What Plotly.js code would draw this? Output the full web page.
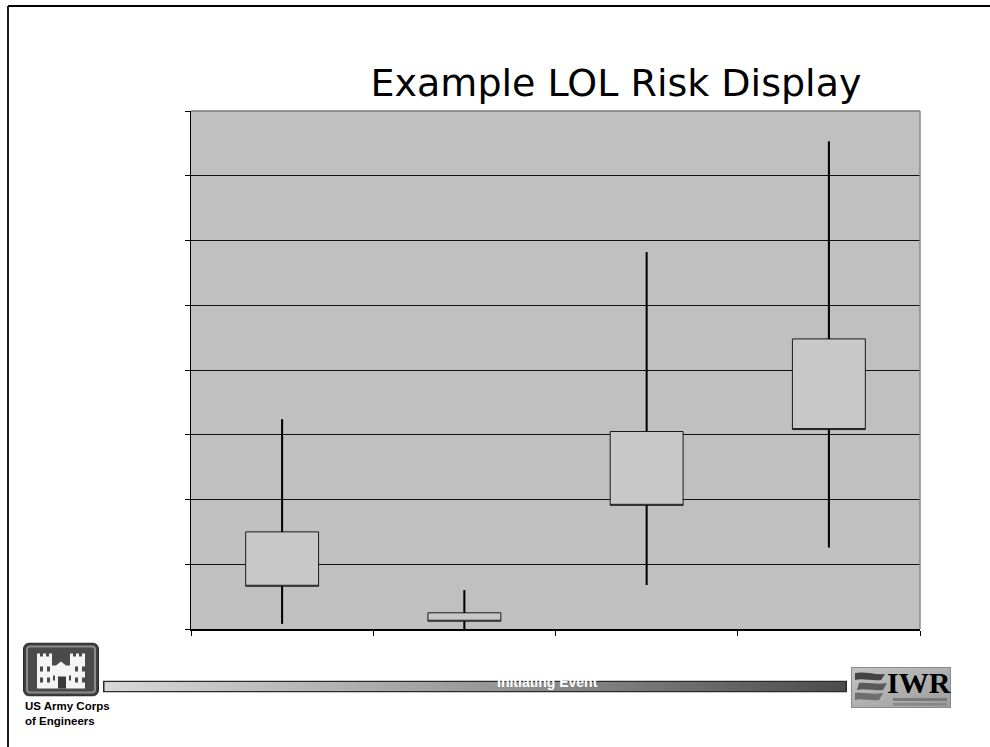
<!DOCTYPE html>
<html>
<head>
<meta charset="utf-8">
<script src="https://cdn.plot.ly/plotly-3.0.1.min.js"></script>
<style>
  html, body { margin: 0; padding: 0; background: #fff; }
  #chart { width: 990px; height: 747px; }
</style>
</head>
<body>
<div id="chart"></div>
<script>
// Loss-of-life risk ranges per initiating event
const events   = ['Event 1', 'Event 2', 'Event 3', 'Event 4'];
const riskLow  = [0.08, 0.00, 0.68, 1.26];   // lower end of range
const boxLow   = [0.66, 0.12, 1.91, 3.08];   // lower edge of likely band
const boxHigh  = [1.50, 0.25, 3.05, 4.48];   // upper edge of likely band
const riskHigh = [3.24, 0.60, 5.82, 7.53];   // upper end of range

const W = 990, H = 747;
const M = { l: 191, r: 70, t: 111, b: 118 };
const PW = W - M.l - M.r, PH = H - M.t - M.b;
// page pixel -> paper coordinates
const px = x => (x - M.l) / PW;
const py = y => (H - M.b - y) / PH;

// whisker segments: above and below each band
const wx = [], wy = [];
events.forEach((e, i) => {
  wx.push(e, e, null, e, e, null);
  wy.push(boxHigh[i], riskHigh[i], null, boxLow[i], riskLow[i], null);
});

const svgUri = s => 'data:image/svg+xml;charset=utf-8,' + encodeURIComponent(s);

const barSvg = `<svg xmlns='http://www.w3.org/2000/svg' width='744' height='12' viewBox='0 0 744 12' preserveAspectRatio='none'>
<defs><linearGradient id='g' x1='0' x2='1' y1='0' y2='0'>
<stop offset='0' stop-color='#d8d8d8'/><stop offset='0.5' stop-color='#9a9a9a'/><stop offset='1' stop-color='#4c4c4c'/></linearGradient></defs>
<rect x='0.75' y='0.75' width='742.5' height='10.5' fill='url(#g)' stroke='#2a2a2a' stroke-width='1.5'/></svg>`;

const castleSvg = `<svg xmlns='http://www.w3.org/2000/svg' width='76' height='54' viewBox='0 0 76 54'>
<rect x='0.5' y='0.5' width='75' height='53' rx='6' fill='#3e3e3e' stroke='#2a2a2a'/>
<rect x='4' y='4' width='68' height='46' rx='3' fill='#4a4a4a' stroke='#8c8c8c' stroke-width='2'/>
<path fill='#f4f4f4' d='M14 46 V11 h3 v3 h3 v-3 h3 v3 h3 v-3 h3 v12 h4 l5 -4 l5 4 h4 V11 h3 v3 h3 v-3 h3 v3 h3 v-3 h3 V46 Z'/>
<rect x='35' y='34' width='8' height='12' fill='#3a3a3a'/>
<rect x='17' y='24' width='3' height='5' fill='#4a4a4a'/><rect x='24' y='24' width='3' height='5' fill='#4a4a4a'/>
<rect x='52' y='24' width='3' height='5' fill='#4a4a4a'/><rect x='59' y='24' width='3' height='5' fill='#4a4a4a'/>
<rect x='17' y='35' width='3' height='5' fill='#4a4a4a'/><rect x='24' y='35' width='3' height='5' fill='#4a4a4a'/>
<rect x='52' y='35' width='3' height='5' fill='#4a4a4a'/><rect x='59' y='35' width='3' height='5' fill='#4a4a4a'/>
<rect x='30' y='33' width='2' height='5' fill='#4a4a4a'/><rect x='46' y='33' width='2' height='5' fill='#4a4a4a'/>
</svg>`;

const iwrSvg = `<svg xmlns='http://www.w3.org/2000/svg' width='100' height='41' viewBox='0 0 100 41'>
<defs><linearGradient id='b' x1='0' x2='1' y1='0' y2='1'>
<stop offset='0' stop-color='#c4c4c4'/><stop offset='1' stop-color='#9c9c9c'/></linearGradient></defs>
<rect x='0' y='0' width='100' height='41' fill='url(#b)'/>
<rect x='0.5' y='0.5' width='99' height='40' fill='none' stroke='#8a8a8a'/>
<path d='M4 6 C14 4 24 8 34 7 L30 13 C20 14 12 11 4 13 Z' fill='#444'/>
<path d='M8 16 C18 15 26 18 36 16 L32 23 C22 24 14 21 6 23 Z' fill='#5a5a5a'/>
<path d='M4 26 C14 25 22 28 32 26 L28 33 C18 34 10 31 4 33 Z' fill='#6e6e6e'/>
<rect x='42' y='31' width='54' height='3' fill='#7a7a7a'/>
<rect x='42' y='36' width='54' height='2.5' fill='#888'/>
</svg>`;

const traces = [
  {
    type: 'box',
    x: events,
    q1: boxLow,
    median: boxLow,
    q3: boxHigh,
    lowerfence: riskLow,
    upperfence: riskHigh,
    width: 0.4,
    whiskerwidth: 0,
    boxpoints: false,
    fillcolor: '#c8c8c8',
    line: { color: '#1a1a1a', width: 1 },
    hoverinfo: 'skip',
    showlegend: false
  },
  {
    type: 'scatter',
    mode: 'lines',
    x: wx,
    y: wy,
    connectgaps: false,
    line: { color: '#000', width: 2 },
    hoverinfo: 'skip',
    showlegend: false
  }
];

const layout = {
  width: W,
  height: H,
  margin: M,
  paper_bgcolor: '#fff',
  plot_bgcolor: '#c0c0c0',
  showlegend: false,
  title: {
    text: 'Example LOL Risk Display',
    font: { family: 'DejaVu Sans', size: 38, color: '#000' },
    xref: 'container', yref: 'container',
    x: 616 / W, xanchor: 'center',
    y: 1 - 83 / H, yanchor: 'middle'
  },
  xaxis: {
    type: 'category',
    categoryarray: events,
    range: [-0.5, events.length - 0.5],
    tickson: 'boundaries',
    ticks: 'outside', ticklen: 5, tickwidth: 1, tickcolor: '#000',
    showticklabels: false,
    showgrid: false, zeroline: false,
    showline: true, linecolor: '#000', linewidth: 1.5,
    fixedrange: true
  },
  yaxis: {
    range: [0, 8],
    dtick: 1,
    ticks: 'outside', ticklen: 5, tickwidth: 1, tickcolor: '#000',
    showticklabels: false,
    showgrid: true, gridcolor: '#111', gridwidth: 1,
    zeroline: false,
    showline: true, linecolor: '#000', linewidth: 1.5,
    fixedrange: true
  },
  shapes: [
    // plot area border (top and right)
    { type: 'line', xref: 'paper', yref: 'paper', x0: 0, x1: 1, y0: 1, y1: 1,
      line: { color: '#7a7a7a', width: 1.5 }, layer: 'above' },
    { type: 'line', xref: 'paper', yref: 'paper', x0: 1, x1: 1, y0: 0, y1: 1,
      line: { color: '#8a8a8a', width: 1.5 }, layer: 'above' },
    // slide frame
    { type: 'line', xref: 'paper', yref: 'paper', x0: px(8), x1: px(990), y0: py(6), y1: py(6),
      line: { color: '#000', width: 2 } },
    { type: 'line', xref: 'paper', yref: 'paper', x0: px(8), x1: px(8), y0: py(6), y1: py(747),
      line: { color: '#1a1a1a', width: 2 } }
  ],
  images: [
    { source: svgUri(barSvg), xref: 'paper', yref: 'paper',
      x: px(103), y: py(680.5), sizex: (847 - 103) / PW, sizey: 12 / PH,
      xanchor: 'left', yanchor: 'top', sizing: 'stretch', layer: 'above' },
    { source: svgUri(castleSvg), xref: 'paper', yref: 'paper',
      x: px(23), y: py(642.5), sizex: 76 / PW, sizey: 54 / PH,
      xanchor: 'left', yanchor: 'top', sizing: 'stretch', layer: 'above' },
    { source: svgUri(iwrSvg), xref: 'paper', yref: 'paper',
      x: px(851), y: py(667), sizex: 100 / PW, sizey: 41 / PH,
      xanchor: 'left', yanchor: 'top', sizing: 'stretch', layer: 'above' }
  ],
  annotations: [
    { text: '<b>Initiating Event</b>', xref: 'paper', yref: 'paper',
      x: px(547), y: py(682), xanchor: 'center', yanchor: 'middle', showarrow: false,
      font: { family: 'Liberation Sans, Arial', size: 14, color: '#fff' } },
    { text: '<b>US Army Corps<br>of Engineers</b>', xref: 'paper', yref: 'paper',
      x: px(24), y: py(713.5), xanchor: 'left', yanchor: 'middle', align: 'left',
      showarrow: false, borderpad: 0,
      font: { family: 'Liberation Sans, Arial', size: 11.5, color: '#000' } },
    { text: '<b>IWR</b>', xref: 'paper', yref: 'paper',
      x: px(919), y: py(682), xanchor: 'center', yanchor: 'middle', showarrow: false,
      font: { family: 'Liberation Serif, serif', size: 30, color: '#000' } }
  ]
};

Plotly.newPlot('chart', traces, layout, { displayModeBar: false, staticPlot: true });
</script>
</body>
</html>
